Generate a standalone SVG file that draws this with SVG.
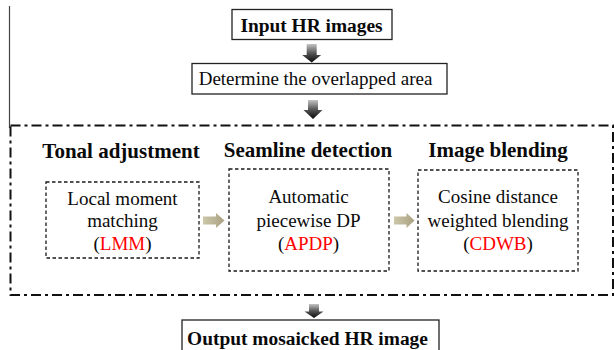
<svg xmlns="http://www.w3.org/2000/svg" width="614" height="350" viewBox="0 0 614 350">
  <defs>
    <!-- dark block arrows: light grey shaft fading to a black head -->
    <linearGradient id="downFill" x1="0" y1="0" x2="0" y2="1">
      <stop offset="0" stop-color="#c4c4c4"/>
      <stop offset="0.5" stop-color="#555555"/>
      <stop offset="1" stop-color="#0a0a0a"/>
    </linearGradient>
    <!-- tan block arrows between the stages -->
    <linearGradient id="rightFill" x1="0" y1="0" x2="1" y2="0">
      <stop offset="0" stop-color="#cdc7aa"/>
      <stop offset="1" stop-color="#a9a181"/>
    </linearGradient>
    <style>
      .box { fill: #ffffff; stroke: #222222; stroke-width: 1.3; }
      .stage { fill: #ffffff; stroke: #1a1a1a; stroke-width: 1.3; stroke-dasharray: 3.5 2.5; }
      .frame { fill: none; stroke: #111111; stroke-width: 2; stroke-dasharray: 10 4 3 4; }
      .edge { fill: none; stroke: #444444; stroke-width: 1.2; }
      .down { fill: url(#downFill); }
      .right { fill: url(#rightFill); }
      .t { font-family: "Liberation Serif", "Times New Roman", serif; fill: #0a0a0a; text-anchor: middle; }
      .b { font-weight: bold; }
      .body { font-size: 19px; }
      .title { font-size: 19.4px; }
      .head { font-size: 21px; }
      .acr { fill: #ff0000; }
    </style>
  </defs>

  <!-- thin rule along the left margin -->
  <line class="edge" x1="9.5" y1="6" x2="9.5" y2="128"/>

  <g id="input">
    <rect class="box" x="232" y="9.5" width="160" height="30"/>
    <text class="t b title" x="311.5" y="31.5">Input HR images</text>
  </g>

  <g id="overlap">
    <rect class="box" x="192" y="63.5" width="255" height="30.5"/>
    <text class="t body" x="315.5" y="85">Determine the overlapped area</text>
  </g>

  <g id="mosaicking">
    <rect class="frame" x="10.5" y="125.5" width="602.5" height="169.5"/>
  </g>

  <g id="tonal">
    <text class="t b head" x="121" y="158">Tonal adjustment</text>
    <rect class="stage" x="46" y="182" width="153" height="76"/>
    <text class="t body" x="122.5" y="205">Local moment</text>
    <text class="t body" x="122.5" y="227">matching</text>
    <text class="t body" x="122.5" y="249.5">(<tspan class="acr">LMM</tspan>)</text>
  </g>

  <g id="seamline">
    <text class="t b head" x="308" y="157">Seamline detection</text>
    <rect class="stage" x="229" y="169" width="160" height="102"/>
    <text class="t body" x="308.5" y="203">Automatic</text>
    <text class="t body" x="308.5" y="226.5">piecewise DP</text>
    <text class="t body" x="308.5" y="250">(<tspan class="acr">APDP</tspan>)</text>
  </g>

  <g id="blending">
    <text class="t b head" x="498" y="157">Image blending</text>
    <rect class="stage" x="418" y="170" width="160" height="101"/>
    <text class="t body" x="498" y="203">Cosine distance</text>
    <text class="t body" x="498" y="226.5">weighted blending</text>
    <text class="t body" x="498" y="250">(<tspan class="acr">CDWB</tspan>)</text>
  </g>

  <g id="output">
    <rect class="box" x="182" y="320" width="257" height="40"/>
    <text class="t b title" x="307.5" y="345">Output mosaicked HR image</text>
  </g>

  <g id="connectors">
    <!-- vertical flow -->
    <path class="down" d="M306.7 44 H316.7 V55 H321.2 L311.7 62.5 L302.2 55 H306.7 Z"/>
    <path class="down" d="M308 100 H318 V110 H322.5 L313 119 L303.5 110 H308 Z"/>
    <path class="down" d="M309 304 H319 V311.5 H323.5 L314 318 L304.5 311.5 H309 Z"/>
    <!-- stage to stage -->
    <path class="right" d="M203 216.5 V224.5 H216 V228 L224.5 220.5 L216 213 V216.5 Z"/>
    <path class="right" d="M394 216.5 V224.5 H406.5 V228 L414.5 220.5 L406.5 213 V216.5 Z"/>
  </g>
</svg>
